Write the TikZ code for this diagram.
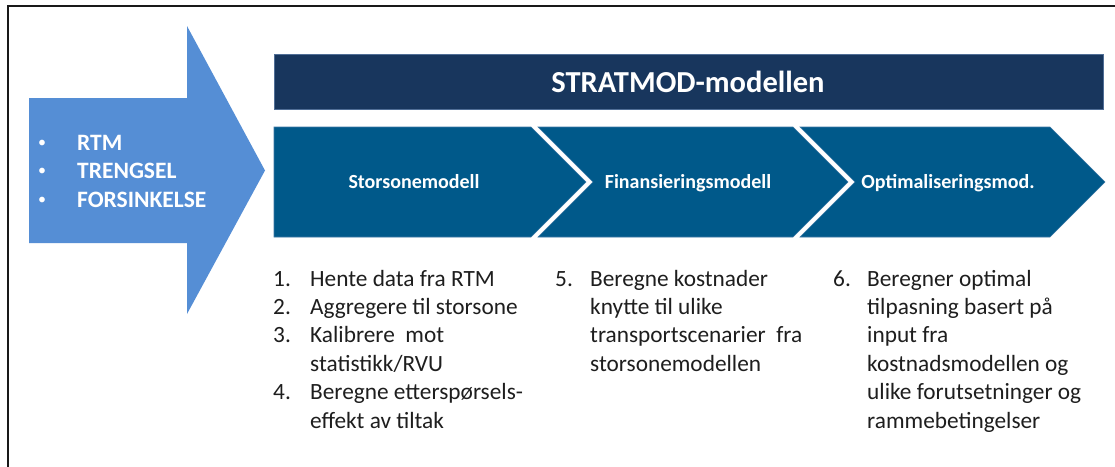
\documentclass[tikz,border=0pt]{standalone}
\usepackage{fontspec}
\setmainfont{Carlito}
\definecolor{arrowblue}{RGB}{85,142,213}
\definecolor{navy}{RGB}{24,54,93}
\definecolor{navyedge}{RGB}{80,110,150}
\definecolor{chev}{RGB}{0,89,138}
\definecolor{chevedge}{RGB}{60,120,165}
\definecolor{bodytext}{RGB}{30,30,30}
\begin{document}
\begin{tikzpicture}[x=1pt,y=-1pt,
  frameline/.style={draw=black!90,line width=2pt},
  bigarrow/.style={fill=arrowblue},
  titlebar/.style={fill=navy,draw=navyedge,line width=0.8pt},
  chevshape/.style={fill=chev,draw=chevedge,line width=0.6pt},
  arrowtxt/.style={anchor=base west,inner sep=0pt,text=white,font=\bfseries\fontsize{23.5}{28}\selectfont},
  bullettxt/.style={anchor=base,inner sep=0pt,text=white,font=\fontsize{16}{20}\selectfont},
  titletxt/.style={anchor=base,inner sep=0pt,text=white,font=\bfseries\fontsize{30.5}{36}\selectfont},
  chevtxt/.style={anchor=base,inner sep=0pt,text=white,font=\bfseries\fontsize{20}{24}\selectfont},
  bodytxt/.style={anchor=base west,inner sep=0pt,text=bodytext,font=\fontsize{23.3}{28}\selectfont}
]
\useasboundingbox (0,0) rectangle (1115,466);
\fill[white] (0,0) rectangle (1115,466);
% frame
\draw[frameline] (7.5,467) -- (7.5,5.7) -- (1116,5.7);
% big input arrow
\path[bigarrow] (29,98) -- (187,98) -- (187,26) -- (265,170.5) -- (187,314) -- (187,243) -- (29,243) -- cycle;
\node[bullettxt] (b1) at (42,147.5) {\textbullet};
\node[bullettxt] (b2) at (42,175.5) {\textbullet};
\node[bullettxt] (b3) at (42,204.5) {\textbullet};
\node[arrowtxt] (rtm) at (77,150.5) {RTM};
\node[arrowtxt] (trengsel) at (77,178.5) {TRENGSEL};
\node[arrowtxt] (forsinkelse) at (77,207.5) {FORSINKELSE};
% title bar
\path[titlebar] (274,54.5) rectangle (1103,109.5);
\node[titletxt] (title) at (688,92) {STRATMOD-modellen};
% chevrons
\path[chevshape] (274,127) -- (531,127) -- (586,182) -- (531,237) -- (274,237) -- cycle;
\path[chevshape] (538,127) -- (793,127) -- (848,182) -- (793,237) -- (538,237) -- (593,182) -- cycle;
\path[chevshape] (800,127) -- (1050,127) -- (1105,182) -- (1050,237) -- (800,237) -- (855,182) -- cycle;
\node[chevtxt] (c1) at (414,188) {Storsonemodell};
\node[chevtxt] (c2) at (688,188) {Finansieringsmodell};
\node[chevtxt] (c3) at (948,188) {Optimaliseringsmod.};
% column 1
\node[bodytxt] (n1) at (273,286) {1.};
\node[bodytxt] (t1) at (310,286) {Hente data fra RTM};
\node[bodytxt] (n2) at (273,314.4) {2.};
\node[bodytxt] (t2) at (310,314.4) {Aggregere til storsone};
\node[bodytxt] (n3) at (273,342.8) {3.};
\node[bodytxt] (t3) at (310,342.8) {Kalibrere\ \ mot};
\node[bodytxt] (t3b) at (310,371.2) {statistikk/RVU};
\node[bodytxt] (n4) at (273,399.6) {4.};
\node[bodytxt] (t4) at (310,399.6) {Beregne etterspørsels-};
\node[bodytxt] (t4b) at (310,428) {effekt av tiltak};
% column 2
\node[bodytxt] (n5) at (555,286) {5.};
\node[bodytxt] (t5) at (590,286) {Beregne kostnader};
\node[bodytxt] (t5b) at (590,314.4) {knytte til ulike};
\node[bodytxt] (t5c) at (590,342.8) {transportscenarier\ \ fra};
\node[bodytxt] (t5d) at (590,371.2) {storsonemodellen};
% column 3
\node[bodytxt] (n6) at (833,286) {6.};
\node[bodytxt] (t6) at (867,286) {Beregner optimal};
\node[bodytxt] (t6b) at (867,314.4) {tilpasning basert på};
\node[bodytxt] (t6c) at (867,342.8) {input fra};
\node[bodytxt] (t6d) at (867,371.2) {kostnadsmodellen og};
\node[bodytxt] (t6e) at (867,399.6) {ulike forutsetninger og};
\node[bodytxt] (t6f) at (867,428) {rammebetingelser};
\end{tikzpicture}
\end{document}
